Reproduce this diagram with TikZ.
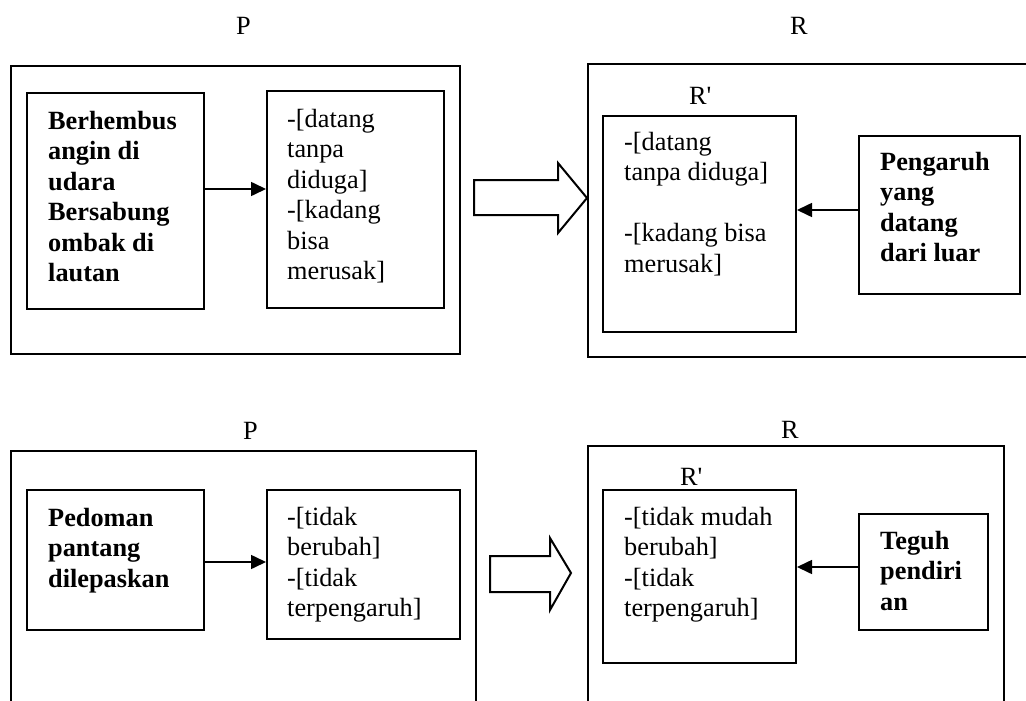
\documentclass[tikz,border=0pt]{standalone}
\usepackage{fontspec}
\setmainfont{Liberation Serif}[Ligatures=TeXOff]
\usetikzlibrary{arrows.meta,fit}

\tikzset{
  frame/.style={draw, line width=2pt, inner sep=0pt},
  conn/.style={line width=1.6pt, -{Triangle[length=15pt,width=14pt]}},
  txt/.style={anchor=base west, inner sep=0pt, font=\fontsize{26.3}{30.6}\selectfont},
  fat/.style={draw, line width=2pt, fill=white, line join=miter}
}
\newcommand{\lines}[1]{\begin{tabular}[t]{@{}l@{}}#1\end{tabular}}

\begin{document}
\begin{tikzpicture}[x=1pt,y=-1pt]
\useasboundingbox (0,0) rectangle (1026,701);
\fill[white] (0,0) rectangle (1026,701);
\clip (0,0) rectangle (1026,701);

% ---------- first row ----------
\node[txt] (lp1) at (236,35) {P};
\node[txt] (lr1) at (790,35) {R};
\node[frame, fit={(11,66) (460,354)}] (p1) {};
\node[frame, fit={(27,93) (204,309)}] (src1) {};
\node[frame, fit={(267,91) (444,308)}] (res1) {};
\node[frame, fit={(588,64) (1040,357)}] (r1) {};
\node[txt] (lrp1) at (689,104) {R'};
\node[frame, fit={(603,116) (796,332)}] (rp1) {};
\node[frame, fit={(859,136) (1020,294)}] (ext1) {};

\node[txt] (t11) at (48,129) {\lines{\textbf{Berhembus}\\\textbf{angin di}\\\textbf{udara}\\\textbf{Bersabung}\\\textbf{ombak di}\\\textbf{lautan}}};
\node[txt] (t12) at (287,127) {\lines{-[datang\\tanpa\\diduga]\\-[kadang\\bisa\\merusak]}};
\node[txt] (t13) at (624,150) {\lines{-[datang\\tanpa diduga]\\ \\-[kadang bisa\\merusak]}};
\node[txt] (t14) at (880,170) {\lines{\textbf{Pengaruh}\\\textbf{yang}\\\textbf{datang}\\\textbf{dari luar}}};

\draw[conn] ([yshift=12pt]src1.east) -- ([yshift=12pt]src1.east -| res1.west);
\draw[conn] ([yshift=5pt]ext1.west) -- ([yshift=5pt]ext1.west -| rp1.east);

% hollow block arrow from P to R
\coordinate (tip1) at (r1.west |- 0,198);
\draw[fat] (tip1) ++(-113,-18) -- ++(84,0) -- ++(0,-17) -- (tip1)
           -- ++(-29,35) -- ++(0,-18) -- ++(-84,0) -- cycle;

% ---------- second row ----------
\node[txt] (lp2) at (243,439) {P};
\node[txt] (lr2) at (781,438) {R};
\node[frame, fit={(11,451) (476,720)}] (p2) {};
\node[frame, fit={(27,490) (204,630)}] (src2) {};
\node[frame, fit={(267,490) (460,639)}] (res2) {};
\node[frame, fit={(588,446) (1004,720)}] (r2) {};
\node[txt] (lrp2) at (680,485) {R'};
\node[frame, fit={(603,490) (796,663)}] (rp2) {};
\node[frame, fit={(859,514) (988,630)}] (ext2) {};

\node[txt] (t21) at (48,526) {\lines{\textbf{Pedoman}\\\textbf{pantang}\\\textbf{dilepaskan}}};
\node[txt] (t22) at (287,525) {\lines{-[tidak\\berubah]\\-[tidak\\terpengaruh]}};
\node[txt] (t23) at (624,525) {\lines{-[tidak mudah\\berubah]\\-[tidak\\terpengaruh]}};
\node[txt] (t24) at (880,549) {\lines{\textbf{Teguh}\\\textbf{pendiri}\\\textbf{an}}};

\draw[conn] ([yshift=-2pt]src2.east) -- ([yshift=-2pt]src2.east -| res2.west);
\draw[conn] ([yshift=5pt]ext2.west) -- ([yshift=5pt]ext2.west -| rp2.east);

% hollow block arrow from P to R
\coordinate (tip2) at ([xshift=-16pt]r2.west |- 0,573);
\draw[fat] (tip2) ++(-81,-17) -- ++(60,0) -- ++(0,-18) -- (tip2)
           -- ++(-21,37) -- ++(0,-18) -- ++(-60,0) -- cycle;
\end{tikzpicture}
\end{document}
